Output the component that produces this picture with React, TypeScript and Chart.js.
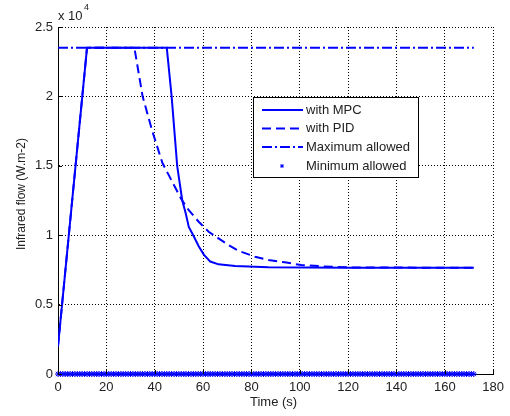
import React, { useEffect, useRef } from "react";
import { Chart, registerables } from "chart.js";

Chart.register(...registerables);

// ---- data ----
const mpcTime = [0, 12, 45, 47, 49.3, 51.4, 52.8, 54.1, 56.2, 58.2, 60.3, 63, 66.4, 73.3, 87, 120, 172];
const mpcFlow = [2000, 23500, 23500, 20000, 15000, 12500, 11600, 10600, 9900, 9200, 8600, 8100, 7900, 7780, 7690, 7650, 7650];

const pidTime = [0, 12, 31.6, 35, 39, 43.2, 48, 51, 54.1, 58.2, 62.3, 66.4, 70.5, 74.6, 81.5, 87, 93.8, 100.6, 110, 120, 172];
const pidFlow = [2000, 23500, 23500, 20000, 17500, 15200, 13600, 12600, 11800, 10970, 10250, 9770, 9290, 8880, 8450, 8210, 8050, 7850, 7750, 7680, 7650];

const maxTime = [0, 172];
const maxFlow = [23500, 23500];

const minTimes = Array.from({ length: 173 }, (_, i) => i);
const minFlowValue = 0;

const xTicks = [0, 20, 40, 60, 80, 100, 120, 140, 160, 180];
const yTicks = [0, 5000, 10000, 15000, 20000, 25000];
const yTickLabels = ["0", "0.5", "1", "1.5", "2", "2.5"];

const legendLabels = ["with MPC", "with PID", "Maximum allowed", "Minimum allowed"];
const xTitle = "Time (s)";
const yTitle = "Infrared flow (W.m-2)";

const BLUE = "#0000ff";
const FONT = "Liberation Sans, Arial, sans-serif";
const TEXT = "#222222";

const toPts = (xs: number[], ys: number[]) => xs.map((x, i) => ({ x, y: ys[i] }));

const overlayPlugin = {
  id: "overlay",
  afterDraw(chart: any) {
    const ctx = chart.ctx as CanvasRenderingContext2D;
    const area = chart.chartArea;
    const xs = chart.scales.x;
    const ys = chart.scales.y;
    ctx.save();

    // inward ticks
    ctx.strokeStyle = "#000";
    ctx.lineWidth = 1;
    ctx.beginPath();
    xTicks.forEach((t) => {
      const px = Math.round(xs.getPixelForValue(t)) + 0.5;
      ctx.moveTo(px, area.bottom);
      ctx.lineTo(px, area.bottom - 4);
    });
    yTicks.forEach((t) => {
      const py = Math.round(ys.getPixelForValue(t)) + 0.5;
      ctx.moveTo(area.left, py);
      ctx.lineTo(area.left + 4, py);
    });
    ctx.stroke();

    // axis titles
    ctx.fillStyle = TEXT;
    ctx.font = `13px ${FONT}`;
    ctx.textAlign = "center";
    ctx.textBaseline = "middle";
    ctx.fillText(xTitle, (area.left + area.right) / 2 - 2, 402);

    ctx.save();
    ctx.translate(22, 194);
    ctx.rotate(-Math.PI / 2);
    ctx.font = `12px ${FONT}`;
    ctx.fillText(yTitle, 0, 0);
    ctx.restore();

    // exponent label
    ctx.textAlign = "left";
    ctx.font = `13px ${FONT}`;
    ctx.fillText("x 10", 58, 16);
    ctx.font = `9px ${FONT}`;
    ctx.fillText("4", 84, 8);

    // legend
    const bx = 253.5, by = 97.5, bw = 165, bh = 80;
    ctx.fillStyle = "#fff";
    ctx.fillRect(bx, by, bw, bh);
    ctx.strokeStyle = "#000";
    ctx.lineWidth = 1;
    ctx.setLineDash([]);
    ctx.strokeRect(bx, by, bw, bh);

    const rowY = [110, 128.5, 147, 166];
    const dashes: number[][] = [[], [9, 5], [10, 3, 2, 3]];
    ctx.strokeStyle = BLUE;
    ctx.lineWidth = 2;
    for (let i = 0; i < 3; i++) {
      ctx.setLineDash(dashes[i]);
      ctx.beginPath();
      ctx.moveTo(262, rowY[i]);
      ctx.lineTo(303, rowY[i]);
      ctx.stroke();
    }
    ctx.setLineDash([]);
    ctx.lineWidth = 1;
    // star marker
    const mx = 282, my = rowY[3], r = 2;
    ctx.beginPath();
    ctx.moveTo(mx - r, my); ctx.lineTo(mx + r, my);
    ctx.moveTo(mx, my - r); ctx.lineTo(mx, my + r);
    ctx.moveTo(mx - r * 0.7, my - r * 0.7); ctx.lineTo(mx + r * 0.7, my + r * 0.7);
    ctx.moveTo(mx - r * 0.7, my + r * 0.7); ctx.lineTo(mx + r * 0.7, my - r * 0.7);
    ctx.stroke();

    ctx.fillStyle = TEXT;
    ctx.font = `13px ${FONT}`;
    ctx.textAlign = "left";
    ctx.textBaseline = "middle";
    legendLabels.forEach((l, i) => ctx.fillText(l, 306, rowY[i]));

    ctx.restore();
  },
};

export default function App() {
  const ref = useRef<HTMLCanvasElement | null>(null);

  useEffect(() => {
    document.body.style.margin = "0";
    const canvas = ref.current!;
    const chart = new Chart(canvas, {
      type: "line",
      data: {
        datasets: [
          {
            label: legendLabels[0],
            data: toPts(mpcTime, mpcFlow),
            borderColor: BLUE,
            borderWidth: 2,
            pointRadius: 0,
            tension: 0,
          },
          {
            label: legendLabels[1],
            data: toPts(pidTime, pidFlow),
            borderColor: BLUE,
            borderWidth: 2,
            borderDash: [9, 5],
            pointRadius: 0,
            tension: 0,
          },
          {
            label: legendLabels[2],
            data: toPts(maxTime, maxFlow),
            borderColor: BLUE,
            borderWidth: 2,
            borderDash: [10, 3, 2, 3],
            pointRadius: 0,
            tension: 0,
          },
          {
            label: legendLabels[3],
            data: minTimes.map((t) => ({ x: t, y: minFlowValue })),
            borderColor: BLUE,
            backgroundColor: BLUE,
            showLine: false,
            pointStyle: "star",
            pointRadius: 3,
            pointBorderWidth: 1,
            clip: false as any,
          },
        ],
      },
      options: {
        responsive: false,
        animation: false,
        devicePixelRatio: 1,
        layout: { padding: { top: 27, right: 13, left: 0, bottom: 0 }, autoPadding: false } as any,
        plugins: { legend: { display: false }, tooltip: { enabled: false } },
        scales: {
          x: {
            type: "linear",
            min: 0,
            max: 180,
            afterFit: (s: any) => { s.height = 42; },
            afterBuildTicks: (s: any) => { s.ticks = xTicks.map((v) => ({ value: v })); },
            ticks: {
              padding: 6,
              color: TEXT,
              font: { family: FONT, size: 13 },
              maxRotation: 0,
              autoSkip: false,
              callback: (v: any) => String(v),
            },
            grid: { color: "#000", lineWidth: 1, drawTicks: false },
            border: { color: "#000", width: 1, dash: [1, 2] },
          },
          y: {
            type: "linear",
            min: 0,
            max: 25000,
            afterFit: (s: any) => { s.width = 58; },
            afterBuildTicks: (s: any) => { s.ticks = yTicks.map((v) => ({ value: v })); },
            ticks: {
              padding: 5,
              color: TEXT,
              font: { family: FONT, size: 13 },
              autoSkip: false,
              callback: (v: any) => {
                const i = yTicks.indexOf(Number(v));
                return i >= 0 ? yTickLabels[i] : "";
              },
            },
            grid: { color: "#000", lineWidth: 1, drawTicks: false },
            border: { color: "#000", width: 1, dash: [1, 2] },
          },
        },
      },
      plugins: [overlayPlugin],
    });
    return () => chart.destroy();
  }, []);

  return (
    <div style={{ position: "absolute", left: 0, top: 0, width: 510, height: 416, background: "#fff" }}>
      <canvas ref={ref} width={510} height={416} />
    </div>
  );
}
